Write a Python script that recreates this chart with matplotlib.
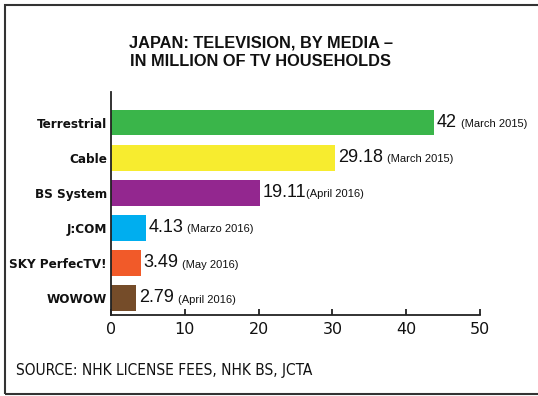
import matplotlib.pyplot as plt
from matplotlib import font_manager
from matplotlib.patches import Rectangle

media = ['Terrestrial', 'Cable', 'BS System', 'J:COM', 'SKY PerfecTV!', 'WOWOW']
# bar lengths as drawn in the source graphic, and the printed values
bar_lengths = [43.8, 30.4, 20.2, 4.7, 4.0, 3.4]
value_labels = ['42', '29.18', '19.11', '4.13', '3.49', '2.79']
dates = ['(March 2015)', '(March 2015)', '(April 2016)', '(Marzo 2016)', '(May 2016)', '(April 2016)']
gaps = [4, 4, 0, 4, 4, 4]
colors = ['#3AB54A', '#F7EC2F', '#93278F', '#00AEEF', '#F15A29', '#754C29']
xticks = [0, 10, 20, 30, 40, 50]

# look for a narrow face, the original uses a condensed sans
names = {f.name for f in font_manager.fontManager.ttflist}
dejavu_cond = any(f.name == 'DejaVu Sans' and 'ondensed' in f.fname
                  for f in font_manager.fontManager.ttflist)
if 'Liberation Sans Narrow' in names:
    narrow = dict(family=['Liberation Sans Narrow', 'DejaVu Sans'])
    ysize, srcsize = 11, 11.5
elif dejavu_cond:
    narrow = dict(family=['DejaVu Sans'], fontstretch='condensed')
    ysize, srcsize = 9.6, 11.1
else:
    narrow = dict(family=['DejaVu Sans'])
    ysize, srcsize = 8, 9.5

reg = ['Liberation Sans', 'DejaVu Sans']

fig = plt.figure(figsize=(5.38, 3.96), dpi=100)
ax = fig.add_axes([111 / 538, 1 - 315 / 396, 369 / 538, 223 / 396])

pos = list(range(len(media)))
ax.barh(pos, bar_lengths, height=0.74, color=colors)
ax.set_ylim(5.49, -0.87)
ax.set_xlim(0, 50)
ax.set_xticks(xticks)
ax.set_yticks(pos)
ax.set_yticklabels(media)
for lab in ax.get_yticklabels():
    lab.set_fontweight('bold')
    lab.set_fontsize(ysize)
    lab.set_color('#111')
    lab.set_family(narrow['family'])
    if 'fontstretch' in narrow:
        lab.set_fontstretch(narrow['fontstretch'])
ax.tick_params(axis='y', length=0, pad=3)
ax.tick_params(axis='x', direction='in', length=4, width=1.3, labelsize=11.5, pad=5,
               color='#222', labelcolor='#111')
for s in ['top', 'right']:
    ax.spines[s].set_visible(False)
for s in ['left', 'bottom']:
    ax.spines[s].set_linewidth(1.3)
    ax.spines[s].set_color('#222')

for p, v, lab, d, g in zip(pos, bar_lengths, value_labels, dates, gaps):
    t = ax.annotate(lab, xy=(v, p), xytext=(2, 0), textcoords='offset points',
                    va='center', ha='left', fontsize=13, family=reg, color='#111')
    ax.annotate(d, xy=(1, 0.22), xycoords=t, xytext=(g * 0.72, 0), textcoords='offset points',
                va='baseline', ha='left', fontsize=8, color='#111', family=reg)

fig.text(261 / 538, 1 - 52.5 / 396, 'JAPAN: TELEVISION, BY MEDIA \u2013\nIN MILLION OF TV HOUSEHOLDS',
         ha='center', va='center', fontsize=11.8, fontweight='bold', linespacing=1.25,
         family=reg, color='#111')
fig.text(16 / 538, 1 - 371 / 396, 'SOURCE: NHK LICENSE FEES, NHK BS, JCTA',
         ha='left', va='center', fontsize=srcsize, color='#111', **narrow)

fig.patches.append(Rectangle((5 / 538, 1 - 394 / 396), 1.1, 389 / 396, transform=fig.transFigure,
                             fill=False, edgecolor='#333', linewidth=1.5, clip_on=False))

fig.savefig('out.png', dpi=100)
